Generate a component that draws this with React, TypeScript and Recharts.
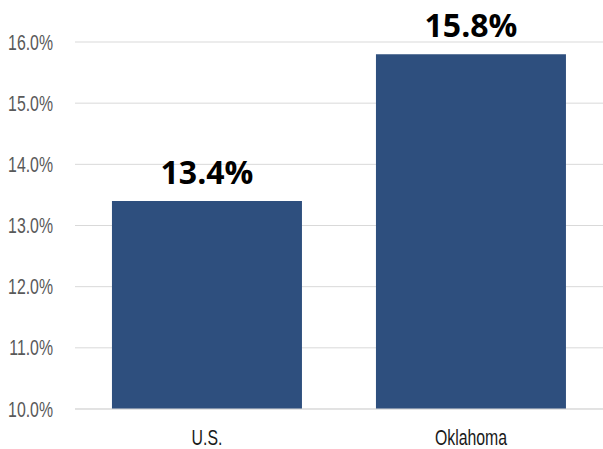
import { BarChart, Bar, XAxis, YAxis, CartesianGrid, LabelList } from "recharts";

const regions = ["U.S.", "Oklahoma"];
const rates = [13.4, 15.8];
const yTicks = [10, 11, 12, 13, 14, 15, 16];

const data = regions.map((region, i) => ({ region, rate: rates[i] }));

// no condensed face installed, so squeeze Liberation Sans horizontally
const AXIS_FONT = "'Liberation Sans', Arial, sans-serif";
const SQUEEZE = 0.72;

const YTick = ({ x, y, payload }: any) => (
  <text
    transform={`translate(${x},${y}) scale(${SQUEEZE},1)`}
    textAnchor="end"
    dy={7.5}
    fontSize={22}
    fill="#595959"
    fontFamily={AXIS_FONT}
  >
    {`${payload.value.toFixed(1)}%`}
  </text>
);

const XTick = ({ x, y, payload }: any) => (
  <text
    transform={`translate(${x},${y}) scale(${SQUEEZE},1)`}
    textAnchor="middle"
    dy={36}
    fontSize={22}
    fill="#1a1a1a"
    fontFamily={AXIS_FONT}
  >
    {payload.value}
  </text>
);

export default function App() {
  return (
    <div style={{ position: "absolute", left: 0, top: 0, background: "#fff" }}>
      <BarChart
        width={603}
        height={449}
        data={data}
        margin={{ top: 42, right: 0, bottom: 0, left: 0 }}
        barCategoryGap="14%"
      >
        <CartesianGrid vertical={false} stroke="#d9d9d9" />
        <YAxis
          type="number"
          domain={[10, 16]}
          ticks={yTicks}
          width={75}
          axisLine={false}
          tickLine={false}
          tickSize={0}
          tickMargin={22}
          tick={<YTick />}
        />
        <XAxis
          dataKey="region"
          height={40}
          axisLine={{ stroke: "#d9d9d9" }}
          tickLine={false}
          tickSize={0}
          tickMargin={0}
          tick={<XTick />}
        />
        <XAxis
          xAxisId="edge"
          type="number"
          domain={[0, 2]}
          ticks={[0, 1, 2]}
          axisLine={false}
          tickLine={{ stroke: "#d9d9d9" }}
          tickSize={7}
          tick={false}
          height={0}
        />
        <Bar dataKey="rate" fill="#2e4f7e" isAnimationActive={false}>
          <LabelList
            dataKey="rate"
            position="top"
            offset={17}
            formatter={(v: number) => `${v.toFixed(1)}%`}
            style={{ fontSize: 32, fontWeight: 700, fill: "#000", fontFamily: "'Open Sans', sans-serif" }}
          />
        </Bar>
      </BarChart>
    </div>
  );
}
